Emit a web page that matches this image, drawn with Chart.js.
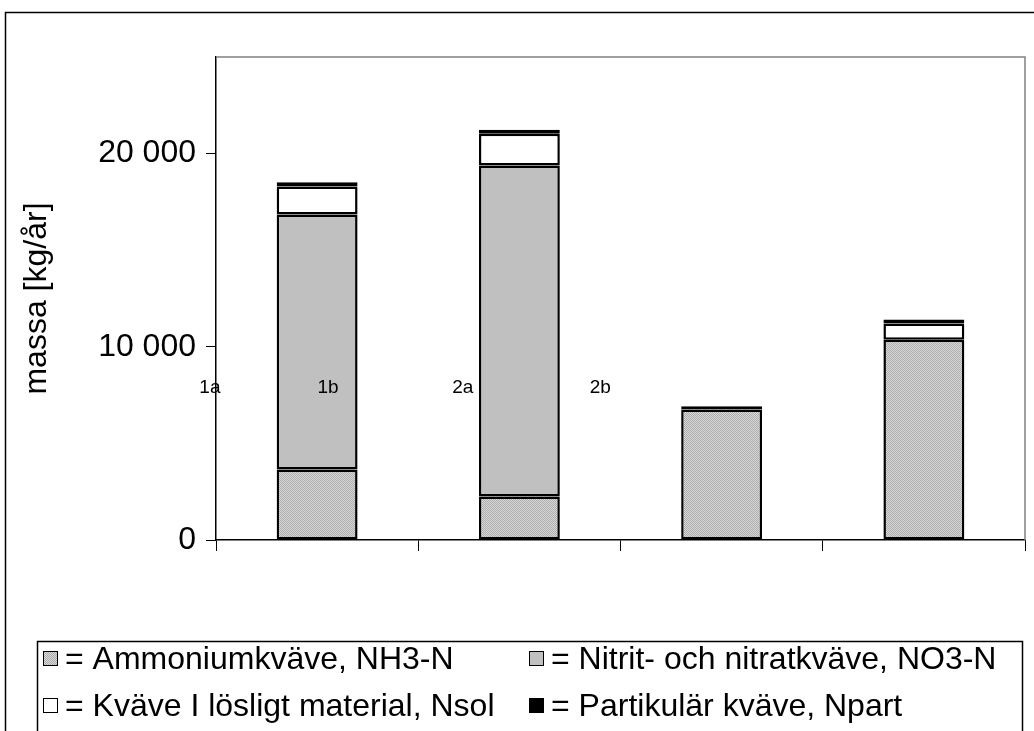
<!DOCTYPE html>
<html>
<head>
<meta charset="utf-8">
<script src="https://cdn.jsdelivr.net/npm/chart.js@4/dist/chart.umd.min.js"></script>
<style>
  html, body { margin: 0; padding: 0; background: #fff; }
  #wrap { width: 1034px; height: 731px; position: relative; }
</style>
</head>
<body>
<div id="wrap"><canvas id="myChart"></canvas></div>
<script>
// values, kg/år
const categories = ['1a', '1b', '2a', '2b']
const nh3 = [3650, 2250, 6750, 10360]
const no3 = [13200, 17130, null, null]
const nsol = [1450, 1650, null, 850]
const npart = [220, 200, 170, 200]
const seriesNames = [
  '= Ammoniumkväve, NH3-N',
  '= Nitrit- och nitratkväve, NO3-N',
  '= Kväve I lösligt material, Nsol',
  '= Partikulär kväve, Npart'
]
const yTicks = [0, 10000, 20000]

// dotted grey fill like the old excel pattern
let makeDots = () => {
  const c = document.createElement('canvas')
  c.width = 2; c.height = 2
  const g = c.getContext('2d')
  g.fillStyle = '#d9d9d9'; g.fillRect(0, 0, 2, 2)
  g.fillStyle = '#acacac'; g.fillRect(0, 0, 1, 1); g.fillRect(1, 1, 1, 1)
  return g.createPattern(c, 'repeat')
}
const dots = makeDots()

const fills = [dots, '#c0c0c0', '#ffffff', '#000000']

const fmt = v => String(v).replace(/\B(?=(\d{3})+(?!\d))/g, ' ')

const extras = {
  id: 'extras',
  afterDraw(chart) {
    const ctx = chart.ctx
    const a = chart.chartArea
    const y = chart.scales.y
    const catW = (a.right - a.left) / categories.length
    ctx.save()
    // outer frame
    ctx.strokeStyle = '#000'; ctx.lineWidth = 1.5
    ctx.beginPath()
    ctx.moveTo(5.5, 740); ctx.lineTo(5.5, 12.5); ctx.lineTo(1040, 12.5)
    ctx.stroke()
    // plot frame top/right
    ctx.strokeStyle = '#808080'; ctx.lineWidth = 1.5
    ctx.beginPath()
    ctx.moveTo(a.left, a.top); ctx.lineTo(a.right, a.top); ctx.lineTo(a.right, a.bottom)
    ctx.stroke()
    // stray category labels inside the plot (offsets in category widths)
    const pos = [-0.03, 0.554, 1.22, 1.9]
    ctx.fillStyle = '#000'
    ctx.font = '19px "Liberation Sans", Arial, sans-serif'
    ctx.textAlign = 'center'; ctx.textBaseline = 'middle'
    categories.forEach((c, i) => {
      ctx.fillText(c, a.left + pos[i] * catW, y.getPixelForValue(7900))
    })
    // legend box
    ctx.strokeStyle = '#000'; ctx.lineWidth = 1.5
    ctx.strokeRect(37.5, 641.5, 985, 120)
    ctx.font = '32px "Liberation Sans", Arial, sans-serif'
    ctx.textAlign = 'left'
    const cols = [43, 529], rows = [658, 705]
    chart.data.datasets.forEach((ds, i) => {
      const x = cols[i % 2], yy = rows[Math.floor(i / 2)]
      ctx.fillStyle = ds.backgroundColor
      ctx.fillRect(x, yy - 7, 15, 15)
      ctx.lineWidth = 1; ctx.strokeStyle = '#000'
      ctx.strokeRect(x + 0.5, yy - 6.5, 14, 14)
      ctx.fillStyle = '#000'
      ctx.fillText(ds.label, x + 22, yy + 2)
    })
    ctx.restore()
  }
}

let createChart = () => {
  const series = [nh3, no3, nsol, npart]
  const datasets = series.map((d, i) => ({
    label: seriesNames[i],
    data: d,
    backgroundColor: fills[i],
    borderColor: '#000',
    borderWidth: 2.5,
    borderSkipped: false,
    barPercentage: 0.4,
    categoryPercentage: 1
  }))
  new Chart(document.getElementById('myChart'), {
    type: 'bar',
    data: { labels: categories, datasets: datasets },
    options: {
      responsive: true,
      maintainAspectRatio: false,
      animation: false,
      layout: { padding: { top: 57, right: 9, left: 0, bottom: 0 } },
      plugins: { legend: { display: false }, tooltip: { enabled: false } },
      scales: {
        x: {
          stacked: true,
          grid: { offset: true, drawOnChartArea: false, drawTicks: true, tickLength: 11, color: '#000' },
          border: { color: '#000', width: 1.5 },
          ticks: { display: false },
          afterFit: s => { s.height = 191 }
        },
        y: {
          stacked: true,
          min: 0,
          max: 25000,
          grid: { drawOnChartArea: false, drawTicks: true, tickLength: 10, color: '#000' },
          border: { color: '#000', width: 1.5 },
          afterBuildTicks: s => { s.ticks = yTicks.map(v => ({ value: v })) },
          ticks: {
            color: '#000',
            padding: 10,
            font: { family: '"Liberation Sans", Arial, sans-serif', size: 32 },
            callback: v => fmt(v)
          },
          title: {
            display: true,
            text: 'massa [kg/år]',
            color: '#000',
            padding: { top: 18, bottom: 0 },
            font: { family: '"Liberation Sans", Arial, sans-serif', size: 32 }
          },
          afterFit: s => { s.width = 216 }
        }
      }
    },
    plugins: [extras]
  })
}

createChart()
</script>
</body>
</html>
